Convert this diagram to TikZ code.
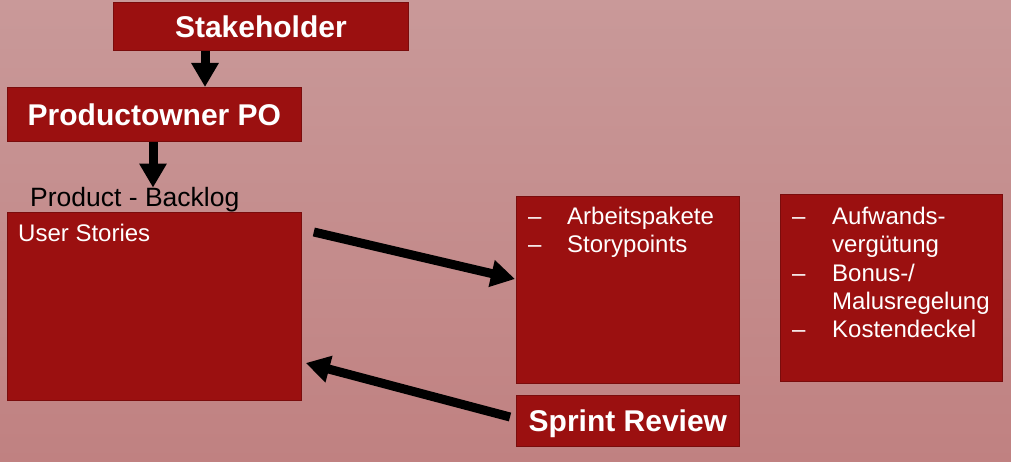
\documentclass[tikz,border=0pt]{standalone}
\usepackage{fontspec}
\setmainfont{Liberation Sans}
\usetikzlibrary{arrows.meta,calc}
\definecolor{boxred}{HTML}{9B1010}
\definecolor{boxedge}{HTML}{7A0C0C}
\definecolor{bgtop}{HTML}{C99999}
\definecolor{bgbot}{HTML}{C08181}
\begin{document}
\begin{tikzpicture}[x=1pt,y=-1pt,
  box/.style={draw=boxedge, line width=0.8pt, fill=boxred, anchor=north west, inner sep=0pt, text=white},
  titlebox/.style={box, font=\fontsize{30}{36}\selectfont\bfseries, text depth=0pt},
  itemtext/.style={anchor=base west, inner sep=0pt, text=white, font=\fontsize{24}{28}\selectfont},
  arr/.style={line width=9pt, -{Triangle[length=24pt,width=26pt]}}
]
\useasboundingbox (0,0) rectangle (1011,462);
\shade[top color=bgtop, bottom color=bgbot] (0,0) rectangle (1011,462);

\node[titlebox, minimum width=295pt, minimum height=48pt] (st) at (113,2) {Stakeholder};
\node[titlebox, minimum width=294pt, minimum height=54pt] (po) at (7,87) {Productowner PO};
\node[box, minimum width=294pt, minimum height=188pt] (us) at (7,212) {};
\node[box, minimum width=223pt, minimum height=187pt] (mb) at (516,196) {};
\node[box, minimum width=222pt, minimum height=187pt] (rb) at (780,194) {};
\node[titlebox, minimum width=223pt, minimum height=51pt] (sr) at (516,395) {Sprint Review};

\node[anchor=base west, inner sep=0pt, font=\fontsize{26.5}{30}\selectfont] (bl) at (30,207) {Product - Backlog};
\node[itemtext] (ust) at (18,242) {User Stories};

\node[itemtext] (md1) at (528,225) {–};
\node[itemtext] (mt1) at (567,225) {Arbeitspakete};
\node[itemtext] (md2) at (528,253) {–};
\node[itemtext] (mt2) at (567,253) {Storypoints};

\node[itemtext] (rd1) at (792,225) {–};
\node[itemtext] (rt1) at (832,225) {Aufwands-};
\node[itemtext] (rt1b) at (832,253) {vergütung};
\node[itemtext] (rd2) at (792,281) {–};
\node[itemtext] (rt2) at (832,281) {Bonus-/};
\node[itemtext] (rt2b) at (832,309) {Malusregelung};
\node[itemtext] (rd3) at (792,337) {–};
\node[itemtext] (rt3) at (832,337) {Kostendeckel};

\draw[arr] (205,0 |- st.south) -- (205,0 |- po.north);
\draw[arr] (153,0 |- po.south) -- (153,0 |- bl.north);
\draw[arr] ($(us.north east)+(12,20)$) -- ($(mb.north west)+(-1,83)$);
\draw[arr] ($(sr.north west)+(-6,22)$) -- ($(us.north east)+(4,151)$);
\end{tikzpicture}
\end{document}
